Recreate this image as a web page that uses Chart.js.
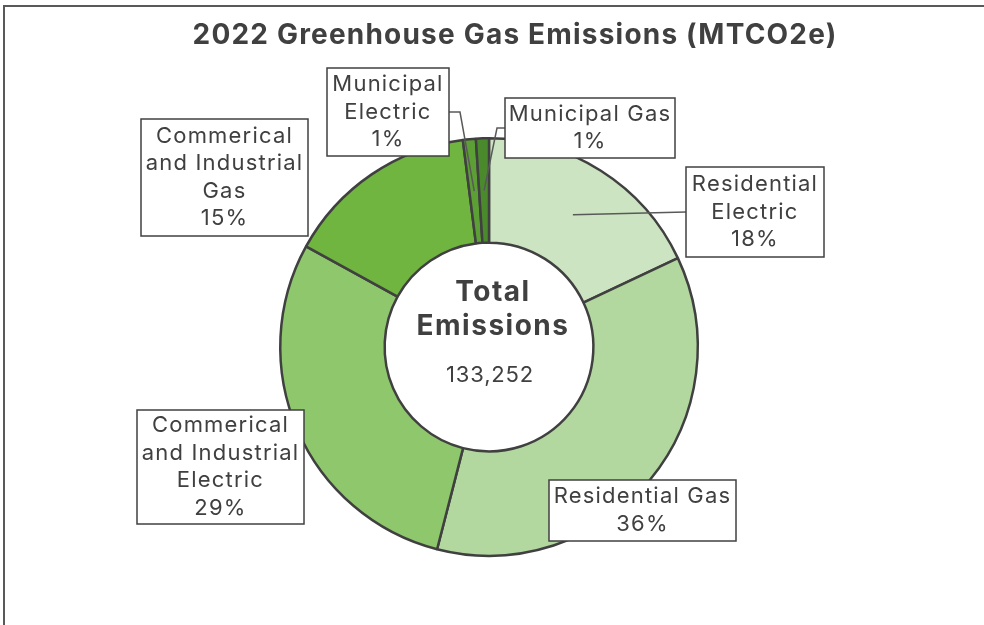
<!DOCTYPE html>
<html>
<head>
<meta charset="utf-8">
<title>2022 Greenhouse Gas Emissions</title>
<script src="https://cdn.jsdelivr.net/npm/chart.js@4/dist/chart.umd.min.js"></script>
<style>
  html, body { margin: 0; padding: 0; background: #fff; }
  canvas { display: block; }
</style>
</head>
<body>
<canvas id="ghg-chart" width="984" height="625"></canvas>
<script>
// sectors, clockwise from 12 o'clock; each entry is the label's lines
const categories = [
  ['Residential', 'Electric'],
  ['Residential Gas'],
  ['Commerical', 'and Industrial', 'Electric'],
  ['Commerical', 'and Industrial', 'Gas'],
  ['Municipal', 'Electric'],
  ['Municipal Gas']
];
const shares = [18, 36, 29, 15, 1, 1]; // percent of total
const sliceColors = ['#cde4c2', '#b2d79f', '#8fc86c', '#70b53f', '#5c9f34', '#4b8a2c'];
const totalEmissions = 133252;
const chartTitle = '2022 Greenhouse Gas Emissions (MTCO2e)';
const centerLines = ['Total', 'Emissions'];

const INK = '#404040';
const FONT = 'Inter, "DejaVu Sans", sans-serif';

// callout boxes (left, top, width, height) and how the leader line runs
const callouts = [
  { x: 686, y: 167, w: 138, h: 90, leader: 'left' },
  { x: 549, y: 480, w: 187, h: 61, leader: null },
  { x: 137, y: 410, w: 167, h: 114, leader: null },
  { x: 141, y: 119, w: 167, h: 117, leader: null },
  { x: 327, y: 68, w: 122, h: 88, leader: 'right', elbow: 11 },
  { x: 505, y: 98, w: 170, h: 60, leader: 'left', elbow: 8, at: 30 }
];

function setFont(ctx, font, spacing) {
  ctx.font = font;
  if ('letterSpacing' in ctx) ctx.letterSpacing = spacing + 'px';
}

const calloutPlugin = {
  id: 'callouts',
  beforeDraw(chart) {
    const ctx = chart.ctx;
    ctx.save();
    ctx.fillStyle = '#595959';
    ctx.fillRect(3, 5, 2, chart.height - 5);
    ctx.fillRect(3, 5, chart.width - 3, 2);
    ctx.fillStyle = INK;
    setFont(ctx, 'bold 28px ' + FONT, 1.2);
    ctx.textAlign = 'center';
    ctx.textBaseline = 'middle';
    ctx.fillText(chartTitle, 515, 36);
    ctx.restore();
  },
  afterDatasetsDraw(chart) {
    const ctx = chart.ctx;
    const meta = chart.getDatasetMeta(0);
    const sum = shares.reduce((a, b) => a + b, 0);
    ctx.save();

    // leader lines first so the boxes sit on top of them
    ctx.strokeStyle = '#595959';
    ctx.lineWidth = 1.5;
    meta.data.forEach((arc, i) => {
      const c = callouts[i];
      if (!c.leader) return;
      const p = arc.getCenterPoint();
      const ey = c.y + (c.at != null ? c.at : c.h / 2);
      const ex = c.leader === 'left' ? c.x : c.x + c.w;
      ctx.beginPath();
      ctx.moveTo(p.x, p.y);
      if (c.elbow) {
        const bx = c.leader === 'left' ? ex - c.elbow : ex + c.elbow;
        ctx.lineTo(bx, ey);
      }
      ctx.lineTo(ex, ey);
      ctx.stroke();
    });

    // boxes with category name and share
    setFont(ctx, '22px ' + FONT, 1.2);
    ctx.textAlign = 'center';
    ctx.textBaseline = 'middle';
    meta.data.forEach((arc, i) => {
      const c = callouts[i];
      ctx.fillStyle = '#fff';
      ctx.fillRect(c.x, c.y, c.w, c.h);
      ctx.strokeStyle = INK;
      ctx.lineWidth = 1.5;
      ctx.strokeRect(c.x, c.y, c.w, c.h);
      const lines = categories[i].concat(Math.round(shares[i] / sum * 100) + '%');
      const lh = 27.5;
      const top = c.y + c.h / 2 - (lines.length - 1) * lh / 2;
      ctx.fillStyle = INK;
      lines.forEach((t, k) => ctx.fillText(t, c.x + c.w / 2, top + k * lh));
    });

    // total in the hole
    const cx = meta.data[0].x + 4;
    const cy = meta.data[0].y;
    setFont(ctx, 'bold 28px ' + FONT, 1.5);
    ctx.fillText(centerLines[0], cx, cy - 54);
    ctx.fillText(centerLines[1], cx, cy - 20);
    setFont(ctx, '22px ' + FONT, 0.8);
    ctx.fillText(totalEmissions.toLocaleString('en-US'), cx - 3, cy + 28);
    ctx.restore();
  }
};

new Chart(document.getElementById('ghg-chart'), {
  type: 'doughnut',
  data: {
    labels: categories.map(l => l.join(' ')),
    datasets: [{
      data: shares,
      backgroundColor: sliceColors,
      borderColor: INK,
      borderWidth: 2.5,
      hoverBorderWidth: 2.5,
      hoverOffset: 0
    }]
  },
  options: {
    responsive: false,
    animation: false,
    devicePixelRatio: 1,
    cutout: '50%',
    layout: { padding: { left: 279, right: 285, top: 137, bottom: 68 } },
    plugins: {
      legend: { display: false },
      tooltip: { enabled: false }
    }
  },
  plugins: [calloutPlugin]
});
</script>
</body>
</html>
